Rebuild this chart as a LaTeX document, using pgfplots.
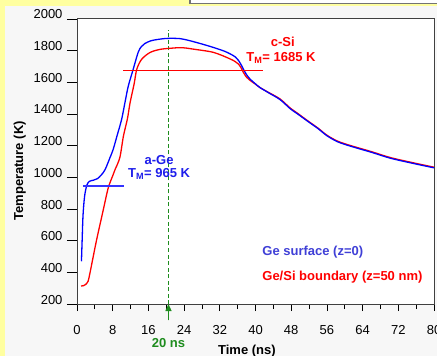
\documentclass[border=0pt]{standalone}
\usepackage{pgfplots}
\pgfplotsset{compat=1.18}
\usepackage{fontspec}
\setmainfont{Liberation Sans}
\usetikzlibrary{arrows.meta}
\definecolor{ybg}{RGB}{255,255,160}
\definecolor{panel}{RGB}{247,247,247}
\definecolor{cblue}{RGB}{0,0,255}
\definecolor{cred}{RGB}{255,0,0}
\definecolor{tblue}{RGB}{30,30,235}
\definecolor{lblue}{RGB}{64,64,215}
\definecolor{gcol}{RGB}{30,140,30}
\begin{document}
\fontsize{13bp}{15bp}\selectfont
\begin{tikzpicture}
\fill[ybg] (0,0) rectangle (437bp,356bp);
\fill[panel] (5bp,0) rectangle (437bp,350bp);
\filldraw[fill=white, draw=black!55, line width=1.5bp] (190bp,352.5bp) rectangle (450bp,370bp);
\begin{axis}[
  at={(77bp,52bp)}, anchor=south west,
  width=357bp, height=285bp, scale only axis,
  xmin=0, xmax=80, ymin=200, ymax=2000,
  xtick={0,8,...,80}, minor xtick={4,12,...,76},
  ytick={200,400,...,2000},
  tick align=outside, tick pos=left,
  major tick length=10bp, minor tick length=5bp,
  xtick style={/pgfplots/major tick length=7bp, /pgfplots/minor tick length=5bp},
  tick style={black, line width=0.8bp},
  axis line style={black!75, line width=1bp},
  axis background/.style={fill=white},
  clip=false,
  scaled ticks=false,
  /pgf/number format/1000 sep={},
  /pgf/number format/assume math mode=true,
  yticklabel style={anchor=base east},
  xticklabel style={yshift=-7bp},
  xlabel={\bfseries Time (ns)}, ylabel={\bfseries Temperature (K)},
  xlabel style={at={(axis description cs:0.476,-0.165)}, anchor=center},
  ylabel style={at={(axis description cs:-0.16,0.467)}, anchor=center},
]
% 20 ns marker
\addplot[draw=gcol, line width=1.4bp, dash pattern=on 4bp off 2.5bp] coordinates {(20.5,200) (20.5,1930)};
\addplot[draw=gcol, fill=gcol, line width=1.4bp, -{Triangle[length=7bp,width=6bp]}] coordinates {(20.5,97) (20.5,200)};
% Ge/Si boundary (z=50 nm)
\addplot[draw=cred, line width=1.3bp, smooth] coordinates {
(0.9,314) (1.5,316) (2.0,325) (2.5,345) (2.9,395) (3.5,480) (4.4,606) (5.9,796)
(7.0,933) (8.1,1017) (8.5,1047) (9.6,1125) (10.4,1260) (11.3,1370) (11.9,1472)
(12.8,1590) (13.4,1683) (14.5,1746) (16.4,1789) (18.6,1808) (20.9,1815) (23.5,1819)
(26,1810) (30.6,1789) (34.3,1748) (35.5,1730) (36.2,1715) (36.8,1690) (37.3,1662)
(38.0,1632) (38.8,1612) (40,1588) (41,1567) (43,1535) (45.5,1495) (47.8,1437)
(49.3,1407) (51.9,1353) (54,1311) (56,1266) (58.2,1231) (60,1212) (62.7,1189)
(66,1162) (70.2,1125) (75,1094) (80,1064)};
% Ge surface (z=0)
\addplot[draw=cblue, line width=1.3bp, smooth] coordinates {
(1.0,470) (1.15,600) (1.35,760) (1.7,880) (2.2,950) (2.8,975) (3.7,982) (4.6,992)
(5.5,1017) (6.3,1049) (7.4,1125) (8.1,1176) (9.0,1265) (10.0,1366) (10.8,1480)
(11.5,1577) (12.6,1683) (13.7,1789) (14.4,1825) (15.2,1845) (16.5,1862) (17.9,1870)
(19.5,1876) (21.0,1878) (23.1,1876) (25,1865) (28,1842) (30.6,1820) (33,1797)
(34.3,1780) (35.5,1760) (36.2,1738) (36.8,1710) (37.3,1683) (38.0,1648) (38.8,1620)
(40,1590) (41,1567) (43,1533) (45.5,1491) (47.8,1433) (49.3,1403) (51.9,1350)
(54,1308) (56,1263) (58.2,1227) (60,1208) (62.7,1185) (66,1158) (70.2,1121)
(75,1090) (80,1060)};
% melting reference lines
\addplot[color=red, line width=1.2bp] coordinates {(10.4,1677) (41.6,1677)};
\addplot[color=cblue!80!white, line width=1.1bp] coordinates {(1.3,945) (10.6,945)};
% annotations
\node[cred, font=\bfseries] at (axis cs:46.1,1854) {c-Si};
\node[cred, font=\bfseries] at (axis cs:45.7,1753) {T\textsubscript{M}= 1685 K};
\node[tblue, font=\bfseries] at (axis cs:18.4,1112) {a-Ge};
\node[tblue, font=\bfseries] at (axis cs:18.4,1022) {T\textsubscript{M}= 965 K};
\node[lblue, font=\bfseries, anchor=west, inner sep=0pt] at (axis cs:41.5,530) {Ge surface (z=0)};
\node[cred, font=\bfseries, anchor=west, inner sep=0pt] at (axis cs:41.5,371) {Ge/Si boundary (z=50 nm)};
\node[gcol, font=\bfseries] at (axis cs:20.5,-45) {20 ns};
\end{axis}
\pgfresetboundingbox
\path[use as bounding box] (0,0) rectangle (437bp,356bp);
\end{tikzpicture}
\end{document}
